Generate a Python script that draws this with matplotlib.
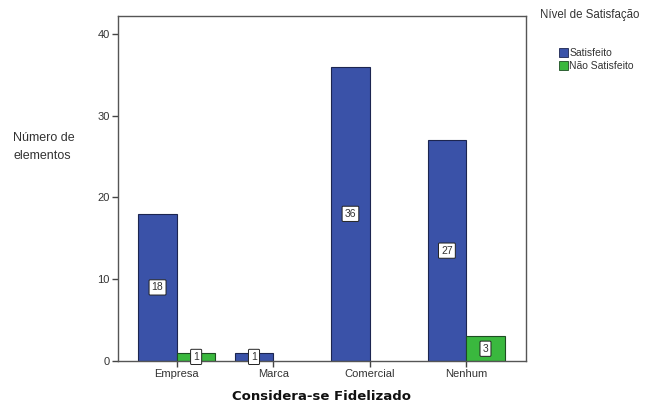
import matplotlib.pyplot as plt
import numpy as np
from matplotlib.patches import Patch

categories = ["Empresa", "Marca", "Comercial", "Nenhum"]
satisfeito = [18, 1, 36, 27]
nao_satisfeito = [1, 0, 0, 3]
series_names = ["Satisfeito", "Não Satisfeito"]
y_ticks = [0, 10, 20, 30, 40]

BLUE = "#3a52a8"
GREEN = "#3ab83e"
BLUE_EDGE = "#1c2550"
GREEN_EDGE = "#1d4d22"
TXT = "#333333"


def label_bars(ax, bars, values):
    for bar, v in zip(bars, values):
        if v <= 0:
            continue
        ax.text(bar.get_x() + bar.get_width() / 2, v / 2, str(v),
                ha="center", va="center", fontsize=7.5, color=TXT,
                bbox=dict(boxstyle="round,pad=0.25,rounding_size=0.1",
                          fc="white", ec="#222222", lw=0.7))


def main():
    plt.rcParams["font.family"] = ["Liberation Sans", "DejaVu Sans"]
    fig = plt.figure(figsize=(6.48, 4.05), dpi=100)
    ax = fig.add_axes([118 / 648, 1 - 361 / 405, 408 / 648, 345 / 405])

    x = np.arange(len(categories))
    w = 0.40
    b1 = ax.bar(x - w / 2, satisfeito, w, color=BLUE, edgecolor=BLUE_EDGE, lw=0.8)
    sat2 = [v if v > 0 else np.nan for v in nao_satisfeito]
    b2 = ax.bar(x + w / 2, sat2, w, color=GREEN, edgecolor=GREEN_EDGE, lw=0.8)
    label_bars(ax, b1, satisfeito)
    label_bars(ax, b2, nao_satisfeito)

    ax.set_xlim(-0.61, 3.62)
    ax.set_ylim(0, 42.2)
    ax.set_xticks(x)
    ax.set_xticklabels(categories, fontsize=8, color=TXT)
    ax.set_yticks(y_ticks)
    ax.set_yticklabels([str(t) for t in y_ticks], fontsize=8, color=TXT)
    ax.tick_params(axis="both", length=4, width=1, color="#444444", pad=2)
    for s in ax.spines.values():
        s.set_color("#555555")
        s.set_linewidth(1.0)

    fig.text(13 / 648, 1 - 147 / 405, "Número de\nelementos", fontsize=9,
             color=TXT, ha="left", va="center", linespacing=1.7)
    fig.text(322 / 648, 1 - 397 / 405, "Considera-se Fidelizado",
             fontsize=9.5, fontweight="bold", family="DejaVu Sans",
             ha="center", va="center", color="#111111")
    fig.text(540 / 648, 1 - 15 / 405, "Nível de Satisfação", fontsize=8.3,
             color=TXT, ha="left", va="center")

    handles = [Patch(facecolor=BLUE, edgecolor=BLUE_EDGE, lw=0.6),
               Patch(facecolor=GREEN, edgecolor=GREEN_EDGE, lw=0.6)]
    leg = fig.legend(handles, series_names, loc="upper left",
                     bbox_to_anchor=(554 / 648, 1 - 43 / 405), frameon=False,
                     fontsize=7.5, handlelength=0.8, handleheight=0.9,
                     handletextpad=0.15, labelspacing=0.25, borderpad=0)
    for t in leg.get_texts():
        t.set_color(TXT)

    fig.savefig("out.png", dpi=100, facecolor="white")


if __name__ == "__main__":
    main()
